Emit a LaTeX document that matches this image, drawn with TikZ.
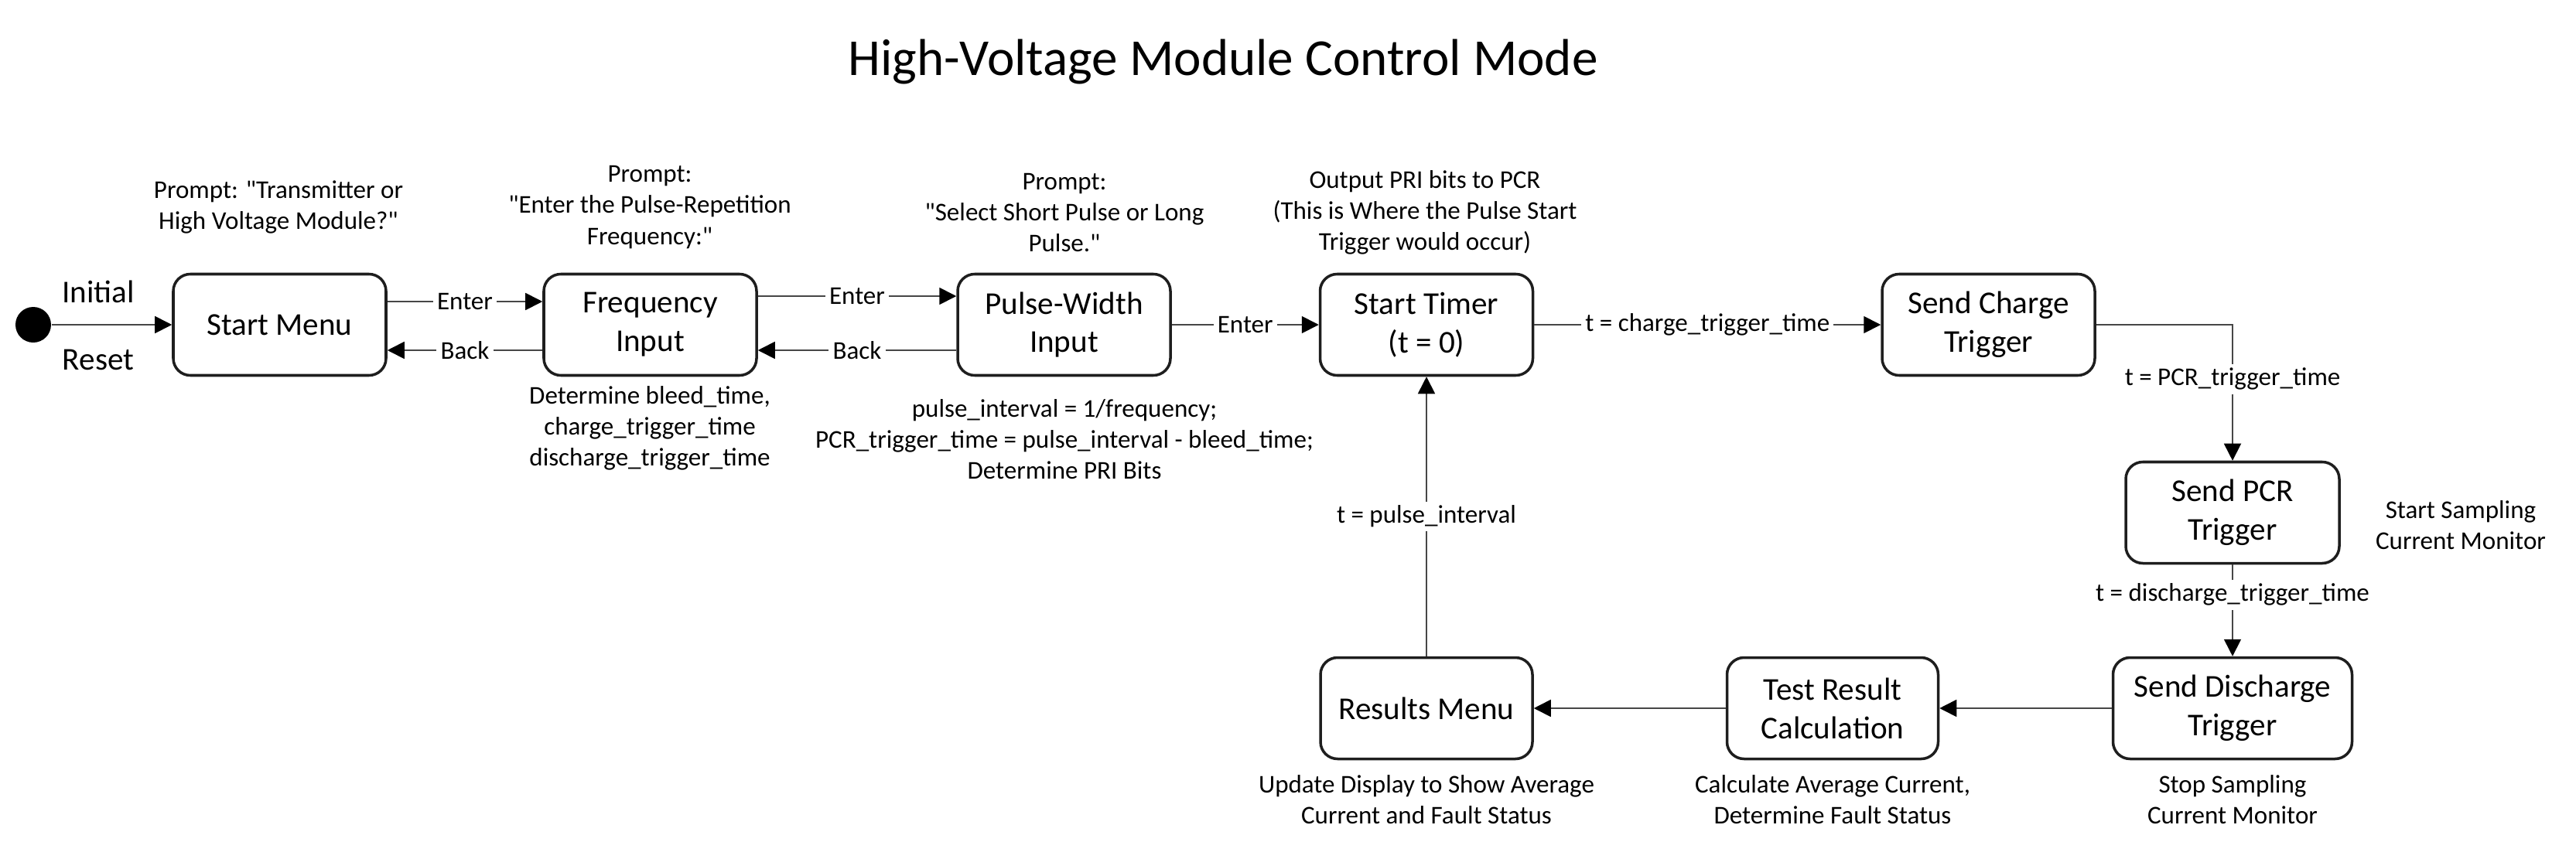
\documentclass[tikz,border=0pt]{standalone}
\usepackage{fontspec}
\setmainfont{Carlito}[Ligatures=TeXOff]
\usepackage{tikz}
\usetikzlibrary{arrows.meta, positioning, calc}
\definecolor{mydark}{RGB}{30,30,30}
\definecolor{mygrey}{RGB}{70,70,70}
\newcommand{\hvnote}{\fontsize{9.4}{11.4}\selectfont}
\newcommand{\hvbox}{\fontsize{11.7}{14.2}\selectfont}
\newcommand{\hvtitle}{\fontsize{19.1}{23}\selectfont}
\tikzset{
  state/.style={rectangle, draw=mydark, line width=1pt, rounded corners=0.22cm,
    minimum width=2.75cm, minimum height=1.31cm, align=center,
    font=\hvbox, inner sep=2pt},
  arrow/.style={-{Triangle[length=0.22cm, width=0.22cm, color=black]},
    line width=0.5pt, draw=mygrey},
  elabel/.style={fill=white, inner sep=1.5pt, font=\hvnote},
  note/.style={align=center, font=\hvnote}
}

\begin{document}
\begin{tikzpicture}
  \useasboundingbox (0,0) rectangle (33.3,11.1);

  % Title
  \node[font=\hvtitle] (title) at (15.81, 10.30) {High-Voltage Module Control Mode};

  % Initial state
  \node[circle, fill=black, minimum size=0.46cm, inner sep=0pt] (init) at (0.43, 6.90) {};
  \node[font=\hvbox] (initlbl) at (1.27, 7.33) {Initial};
  \node[font=\hvbox] (resetlbl) at (1.27, 6.45) {Reset};

  % Top row of states
  \node[state] (start) at (3.615, 6.90) {Start Menu};
  \node[state] (freq) at (8.405, 6.90) {Frequency\\Input};
  \node[state] (pulse) at (13.755, 6.90) {Pulse-Width\\Input};
  \node[state] (timer) at (18.44, 6.90) {Start Timer\\(t = 0)};
  \node[state] (charge) at (25.705, 6.90) {Send Charge\\Trigger};

  % Right column
  \node[state, minimum width=2.76cm] (pcr) at (28.86, 4.47) {Send PCR\\Trigger};
  \node[state, minimum width=3.09cm] (discharge) at (28.86, 1.94) {Send Discharge\\Trigger};

  % Bottom row
  \node[state, minimum width=2.73cm] (test) at (23.69, 1.94) {Test Result\\Calculation};
  \node[state, minimum width=2.74cm] (results) at (18.44, 1.94) {Results Menu};

  % Notes above the states
  \node[note] (smnote) at (3.60, 8.42) {Prompt: "Transmitter or\\High Voltage Module?"};
  \node[note] (fqnote) at (8.40, 8.42) {Prompt:\\"Enter the Pulse-Repetition\\Frequency:"};
  \node[note] (pwnote) at (13.76, 8.35) {Prompt:\\"Select Short Pulse or Long\\Pulse."};
  \node[note] (tmnote) at (18.42, 8.35) {Output PRI bits to PCR\\(This is Where the Pulse Start\\Trigger would occur)};

  % Notes below / beside the states
  \node[note] (fqcalc) at (8.40, 5.56) {Determine bleed\_time,\\charge\_trigger\_time\\discharge\_trigger\_time};
  \node[note] (pwcalc) at (13.76, 5.42) {pulse\_interval = 1/frequency;\\PCR\_trigger\_time = pulse\_interval - bleed\_time;\\Determine PRI Bits};
  \node[note] (pcrnote) at (31.81, 4.31) {Start Sampling\\Current Monitor};
  \node[note] (dcnote) at (28.86, 0.76) {Stop Sampling\\Current Monitor};
  \node[note] (trnote) at (23.69, 0.76) {Calculate Average Current,\\Determine Fault Status};
  \node[note] (rmnote) at (18.44, 0.76) {Update Display to Show Average\\Current and Fault Status};

  % Menu transitions
  \draw[arrow] (init) -- (start);
  \draw[arrow] ([yshift=0.30cm]start.east) -- node[elabel] {Enter} ([yshift=0.30cm]freq.west);
  \draw[arrow] ([yshift=-0.33cm]freq.west) -- node[elabel] {Back} ([yshift=-0.33cm]start.east);
  \draw[arrow] ([yshift=0.37cm]freq.east) -- node[elabel] {Enter} ([yshift=0.37cm]pulse.west);
  \draw[arrow] ([yshift=-0.33cm]pulse.west) -- node[elabel] {Back} ([yshift=-0.33cm]freq.east);
  \draw[arrow] (pulse) -- node[elabel] {Enter} (timer);

  % Timed transitions
  \draw[arrow] (timer) -- node[elabel] {t = charge\_trigger\_time} (charge);
  \draw[arrow] (charge.east) -| node[elabel, pos=0.70] {t = PCR\_trigger\_time} (pcr.north);
  \draw[arrow] (pcr) -- node[elabel, pos=0.33] {t = discharge\_trigger\_time} (discharge);
  \draw[arrow] (discharge) -- (test);
  \draw[arrow] (test) -- (results);
  \draw[arrow] (results) -- node[elabel] {t = pulse\_interval} (timer);
\end{tikzpicture}
\end{document}
